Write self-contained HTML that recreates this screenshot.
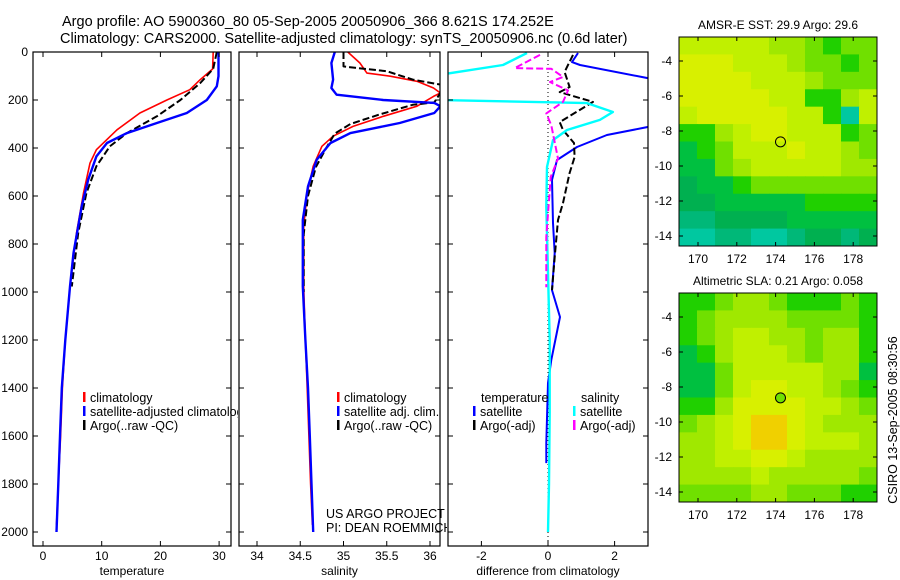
<!DOCTYPE html>
<html><head><meta charset="utf-8"><style>
body{margin:0;background:#fff;}
svg{display:block;font-family:"Liberation Sans",Arial,sans-serif;}
</style></head><body>
<svg id="fig" width="900" height="580" viewBox="0 0 900 580">
</svg>
<script>
// ---- data ----
const tClimDepth=[0,71,115,157,200,254,324,407,463,588,754,977,1200,1400,1600,1800,1970];
const tClimVal=[29,28.9,26.8,25,21.1,16.5,12.6,9.1,8,6.9,5.7,4.6,3.8,3.3,3.0,2.6,2.3];
const tSatDepth=[0,101,143,200,254,296,338,379,435,532,643,838,977,1200,1400,1600,1800,2000];
const tSatVal=[29.9,29.9,29.6,27.9,24.5,19.4,14.3,10.9,9.1,7.7,6.6,5.2,4.6,3.8,3.2,2.9,2.6,2.3];
const tArgoDepth=[0,70,129,200,268,338,393,476,588,754,977];
const tArgoVal=[29.6,29,26.8,23.4,19.4,14.3,11.4,9.1,7.4,6,4.9];
const sClimDepth=[0,46,88,101,122,150,171,185,226,268,310,351,393,476,588,726,977,1200,1400,1600,1800,1970];
const sClimVal=[35.05,35.19,35.27,35.54,35.85,36.04,36.12,36.04,35.85,35.46,35.11,34.88,34.75,34.65,34.58,34.54,34.54,34.56,34.58,34.6,34.62,34.64];
const sSatDepth=[0,46,115,150,178,200,212,226,254,296,338,379,449,560,699,977,1200,1400,1600,1800,2000];
const sSatVal=[34.9,34.86,34.88,34.86,34.92,35.46,36.05,36.12,36.05,35.65,35.08,34.85,34.69,34.59,34.53,34.53,34.56,34.59,34.61,34.63,34.65];
const sArgoDepth=[0,60,62,80,115,136,170,210,220,260,300,340,400,480,600,760,1000];
const sArgoVal=[35.0,35.0,35.04,35.5,35.8,36.12,36.12,36.05,35.8,35.42,35.08,34.9,34.8,34.68,34.59,34.54,34.54];
const dTSatDepth=[4,42,54,117,304,346,396,450,533,713,838,992,1104,1283,1379,1629,1713];
const dTSatVal=[0.9,0.72,0.96,3.3,3.3,1.77,0.87,0.27,0.12,0.15,0.2,0.12,0.36,0.1,0.0,-0.05,-0.05];
const dTArgoDepth=[12,83,146,167,208,292,325,379,438,504,629,700,854,992];
const dTArgoVal=[0.75,0.5,0.65,0.35,1.35,0.35,0.45,0.78,0.8,0.65,0.45,0.3,0.2,0.12];
const dSSatDepth=[4,54,96,200,213,250,283,325,367,479,646,921,1200,1500,1800,2000];
const dSSatVal=[-0.63,-1.35,-3.3,-3.3,1.17,1.95,1.56,0.57,0.15,-0.03,-0.05,0,0.05,0.05,0.03,0];
const dSArgoDepth=[12,67,70,104,125,160,208,256,306,444,521,771,980];
const dSArgoVal=[-0.24,-1,0.1,0.45,0.06,0.6,0.45,-0.05,0.1,0.3,0.08,-0.05,-0.05];
const depthTicks=[0,200,400,600,800,1000,1200,1400,1600,1800,2000];
const tempTicks=[0,10,20,30];
const salTicks=[34,34.5,35,35.5,36];
const salTickLabels=["34","34.5","35","35.5","36"];
const diffTicks=[-2,0,2];
const lonTicks=[170,172,174,176,178];
const latTicks=[-4,-6,-8,-10,-12,-14];
const sstGrid=[
[8,8,8,8,8,7,7,6,5,6,6],[9,9,9,8,8,8,7,6,6,5,6],[9,9,9,9,8,8,8,7,6,6,6],[9,9,9,9,9,8,8,5,5,7,8],
[8,9,9,9,9,9,8,8,5,1,8],[5,5,7,8,9,9,8,8,8,5,6],[4,5,6,8,8,8,9,8,8,7,6],[4,4,6,7,8,8,8,8,8,7,7],
[3,4,4,5,6,6,6,6,6,6,6],[3,3,4,4,4,4,4,5,5,5,5],[2,2,3,3,3,3,4,4,4,4,4],[1,1,2,2,1,1,2,3,3,2,3]];
const slaGrid=[
[5,5,6,7,7,6,5,5,5,6,5],[5,6,7,7,7,7,6,6,6,6,5],[5,6,7,8,8,7,7,6,7,7,5],[4,5,7,8,8,8,7,6,7,7,5],
[4,4,6,8,8,8,8,8,7,7,4],[4,4,6,8,9,9,8,8,7,6,5],[5,5,7,9,9,9,9,8,8,7,6],[6,7,8,9,10,10,9,8,7,7,7],
[7,7,8,9,10,10,9,8,8,8,7],[7,7,8,8,9,9,8,7,7,7,7],[7,7,7,7,8,7,7,7,7,7,6],[6,6,6,6,7,7,6,6,6,5,5]];
const argoLon=174.252, argoLat=-8.621;
// ---- drawing ----
const svg=document.getElementById('fig');const NS='http://www.w3.org/2000/svg';
function mk(tag,attrs,parent){const e=document.createElementNS(NS,tag);for(const k in attrs)e.setAttribute(k,attrs[k]);(parent||svg).appendChild(e);return e;}
const Y=d=>52+d*0.24;
const panels=[
 {x0:33,x1:231,X:v=>43+v*5.87,ticks:tempTicks,labels:tempTicks.map(String),title:'temperature',name:'temperature-panel'},
 {x0:239,x1:440,X:v=>257+(v-34)*86.5,ticks:salTicks,labels:salTickLabels,title:'salinity',name:'salinity-panel'},
 {x0:448,x1:648,X:v=>548+v*33.3,ticks:diffTicks,labels:diffTicks.map(String),title:'difference from climatology',name:'difference-panel'}];
panels.forEach((p,i)=>{
 const g=mk('g',{});
 
 
 mk('rect',{x:p.x0-1,y:49,width:p.x1-p.x0+2,height:531,fill:'#fff'},g);
 const cid='clip'+i;const cp=mk('clipPath',{id:cid},g);mk('rect',{x:p.x0,y:52,width:p.x1-p.x0,height:494},cp);
 p.g=mk('g',{'clip-path':'url(#'+cid+')'},g);
 mk('rect',{x:p.x0,y:52,width:p.x1-p.x0,height:494,fill:'none',stroke:'#000','stroke-width':1.2},g);
 depthTicks.forEach(d=>{mk('line',{x1:p.x0,x2:p.x0+5,y1:Y(d),y2:Y(d),stroke:'#000'},g);mk('line',{x1:p.x1,x2:p.x1-5,y1:Y(d),y2:Y(d),stroke:'#000'},g);
  if(i==0){const t=mk('text',{x:28,y:Y(d)+4,'text-anchor':'end','font-size':12},g);t.textContent=d;}});
 p.ticks.forEach((v,j)=>{const x=p.X(v);mk('line',{x1:x,x2:x,y1:52,y2:57,stroke:'#000'},g);mk('line',{x1:x,x2:x,y1:546,y2:541,stroke:'#000'},g);
  const t=mk('text',{x:x,y:560,'text-anchor':'middle','font-size':12},g);t.textContent=p.labels[j];});
 const tt=mk('text',{x:(p.x0+p.x1)/2,y:575,'text-anchor':'middle','font-size':12},g);tt.textContent=p.title;
 
 
});
function line(p,vals,deps,color,w,dash,name){
 const pts=vals.map((v,k)=>p.X(v).toFixed(1)+','+Y(deps[k]).toFixed(1)).join(' ');
 const e=mk('polyline',{points:pts,fill:'none',stroke:color,'stroke-width':w,'stroke-dasharray':dash||'none','stroke-linejoin':'round'},p.g);
 
 
}
const [P1,P2,P3]=panels;
line(P1,tClimVal,tClimDepth,'#f00',1.6,null,'temp-climatology-line');
line(P1,tArgoVal,tArgoDepth,'#000',2,'7,3','temp-argo-line');
line(P1,tSatVal,tSatDepth,'#00f',2.4,null,'temp-satellite-line');
line(P2,sClimVal,sClimDepth,'#f00',1.6,null,'sal-climatology-line');
line(P2,sArgoVal,sArgoDepth,'#000',2,'7,3','sal-argo-line');
line(P2,sSatVal,sSatDepth,'#00f',2.4,null,'sal-satellite-line');
mk('line',{x1:P3.X(0),x2:P3.X(0),y1:52,y2:546,stroke:'#000','stroke-width':1,'stroke-dasharray':'1,3'},P3.g);
line(P3,dTSatVal,dTSatDepth,'#00f',2,null,'diff-temp-satellite-line');
line(P3,dTArgoVal,dTArgoDepth,'#000',2,'7,3','diff-temp-argo-line');
line(P3,dSSatVal,dSSatDepth,'#0ff',2.4,null,'diff-sal-satellite-line');
line(P3,dSArgoVal,dSArgoDepth,'#f0f',2,'7,3','diff-sal-argo-line');
function leg(x,y,color,label,name,parent){const g=mk('g',{},parent||svg);
 if(color)mk('rect',{x:x,y:y-10,width:2.5,height:10,fill:color},g);const t=mk('text',{x:x+7,y:y,'font-size':12.5},g);t.textContent=label;}
leg(83,402,'#f00','climatology','legend-climatology',P1.g.parentNode);
leg(83,416,'#00f','satellite-adjusted climatology','legend-satellite-adjusted',P1.g.parentNode);
leg(83,430,'#000','Argo(..raw -QC)','legend-argo-raw',P1.g.parentNode);
const p2bg=P2.g.parentNode;svg.appendChild(p2bg);
leg(337,402,'#f00','climatology','legend-sal-climatology',p2bg);
leg(337,416,'#00f','satellite adj. clim.','legend-sal-satellite',p2bg);
leg(337,430,'#000','Argo(..raw -QC)','legend-sal-argo',p2bg);
const us=mk('text',{x:326,y:518,'font-size':12.5},p2bg);us.textContent='US ARGO PROJECT';
const pi=mk('text',{x:326,y:532,'font-size':12.5},p2bg);pi.textContent='PI: DEAN ROEMMICH';
const p3bg=P3.g.parentNode;svg.appendChild(p3bg);
leg(474,402,null,'temperature','legend-temperature-header',p3bg);
leg(473,416,'#00f','satellite','legend-temp-satellite',p3bg);
leg(473,430,'#000','Argo(-adj)','legend-temp-argo',p3bg);
leg(574,402,null,'salinity','legend-salinity-header',p3bg);
leg(573,416,'#0ff','satellite','legend-sal-satellite-diff',p3bg);
leg(573,430,'#f0f','Argo(-adj)','legend-sal-argo-diff',p3bg);
// maps
const cmap=['#00e0d8','#00c8a0','#00b878','#00b050','#00c040','#20d000','#70e000','#a0e800','#c0f000','#d8f000','#f0d000'];
function map(grid,top,title,name,dotFill){
 const g=mk('g',{});
 const L=679,R=877,T=top,B=top+209;const LX=v=>698+(v-170)*19.4;const LY=v=>(top+24)+(-4-v)*17.5;
 const rows=grid.length,cols=grid[0].length,cw=(R-L)/cols,ch=(B-T)/rows;
 grid.forEach((row,r)=>row.forEach((v,c)=>{const e=mk('rect',{x:L+c*cw,y:T+r*ch,width:cw+0.5,height:ch+0.5,fill:cmap[v]},g);
  
  }));
 mk('rect',{x:L,y:T,width:R-L,height:B-T,fill:'none',stroke:'#000'},g);
 lonTicks.forEach(v=>{const x=LX(v);mk('line',{x1:x,x2:x,y1:T,y2:T+4,stroke:'#000'},g);mk('line',{x1:x,x2:x,y1:B,y2:B-4,stroke:'#000'},g);
  const t=mk('text',{x:x,y:B+17,'text-anchor':'middle','font-size':12},g);t.textContent=v;});
 latTicks.forEach(v=>{const y=LY(v);mk('line',{x1:L,x2:L+4,y1:y,y2:y,stroke:'#000'},g);mk('line',{x1:R,x2:R-4,y1:y,y2:y,stroke:'#000'},g);
  const t=mk('text',{x:L-7,y:y+4,'text-anchor':'end','font-size':12},g);t.textContent=v;});
 const c=mk('circle',{cx:LX(argoLon),cy:LY(argoLat),r:5,fill:dotFill,stroke:'#000'},g);
 
 
 const t=mk('text',{x:(L+R)/2,y:T-8,'text-anchor':'middle','font-size':12},g);t.textContent=title;
}
map(sstGrid,37,'AMSR-E SST: 29.9 Argo: 29.6','sst-map','none');
map(slaGrid,293,'Altimetric SLA: 0.21 Argo: 0.058','sla-map','#70e000');
function txt(x,y,s,name,extra){const t=mk('text',Object.assign({x:x,y:y,'font-size':14.5},extra||{}));t.textContent=s;return t;}
txt(62,26,'Argo profile: AO 5900360_80 05-Sep-2005 20050906_366 8.621S 174.252E','title-line-1');
txt(60,43,'Climatology: CARS2000. Satellite-adjusted climatology: synTS_20050906.nc (0.6d later)','title-line-2');
txt(0,0,'CSIRO 13-Sep-2005 08:30:56','credit-text',{transform:'translate(897,420) rotate(-90)','text-anchor':'middle','font-size':12.5});
</script>
</body></html>
